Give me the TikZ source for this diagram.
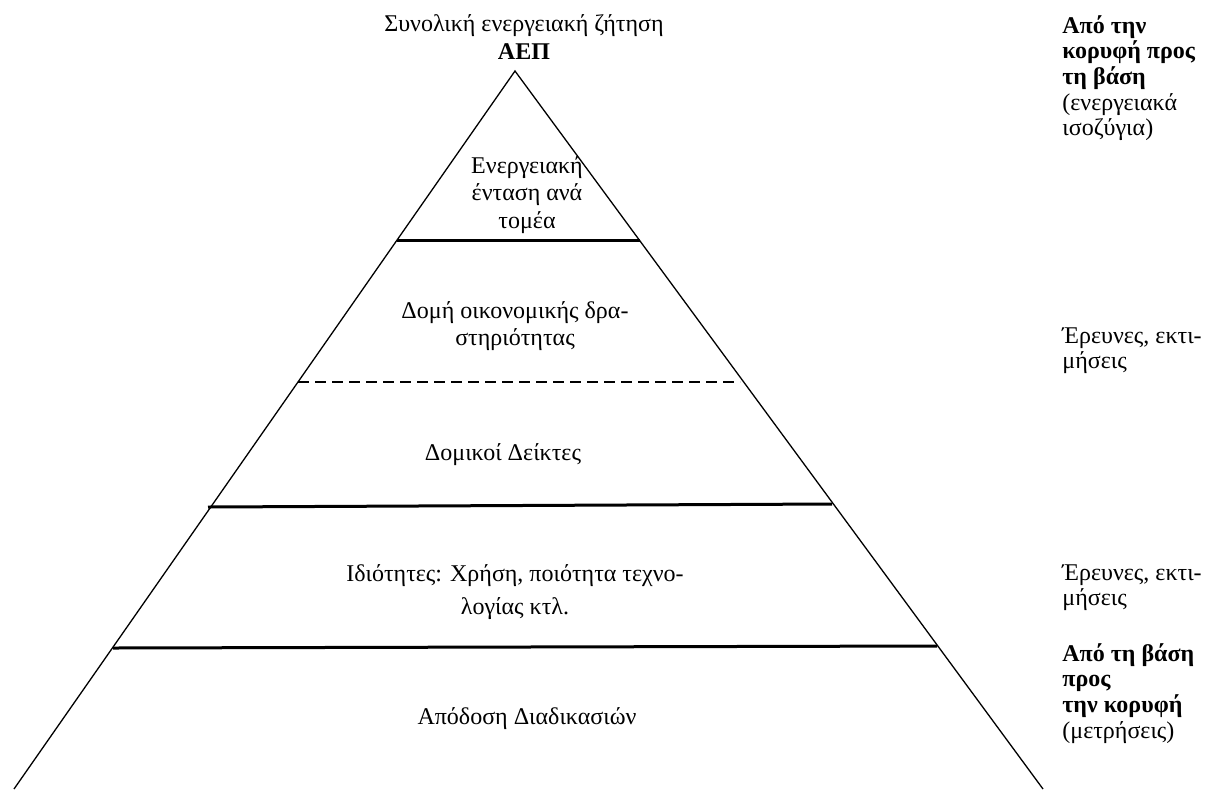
\documentclass[tikz,border=0pt]{standalone}
\usepackage{fontspec}
\setmainfont{Liberation Serif}
\usetikzlibrary{positioning, calc}
\tikzset{
  layertext/.style={font=\fontsize{12}{13.8}\selectfont, align=center, inner sep=0pt},
  sidetext/.style={font=\fontsize{12}{12.8}\selectfont, align=left, anchor=north west, inner sep=0pt},
  side/.style={line width=0.65pt},
  border/.style={line width=1.5pt},
  softborder/.style={line width=1pt, dash pattern=on 5.5pt off 3pt}
}

\begin{document}
\begin{tikzpicture}[x=0.5pt, y=-0.5pt]
  \useasboundingbox (0,0) rectangle (1211,789);
  % pyramid
  \coordinate (apex) at (515,71);
  \coordinate (baseL) at (14,789);
  \coordinate (baseR) at (1043,789);
  \draw[side] (baseL) -- (apex) -- (baseR);
  % levels
  \draw[border] (397,240) -- (640,240);
  \draw[softborder] (298,382) -- (740,382);
  \draw[border] (208,507) -- (832,504);
  \draw[border] (113,648) -- (937,646);
  % labels inside
  \node[layertext] (total) at (524,37) {Συνολική ενεργειακή ζήτηση\\\textbf{ΑΕΠ}};
  \node[layertext] (intensity) at (527,195) {Ενεργειακή\\ένταση ανά\\τομέα};
  \node[layertext] (structure) at (515,326) {Δομή οικονομικής δρα-\\στηριότητας};
  \node[layertext] (indicators) at (503,455) {Δομικοί Δείκτες};
  \node[layertext] (props) at (515,592) {Ιδιότητες: Χρήση, ποιότητα τεχνο-\\[3pt]λογίας κτλ.};
  \node[layertext] (efficiency) at (527,719) {Απόδοση Διαδικασιών};
  % right column
  \node[sidetext] (topdown) at (1062,15) {\textbf{Από την}\\\textbf{κορυφή προς}\\\textbf{τη βάση}\\(ενεργειακά\\ισοζύγια)};
  \node[sidetext] (survey1) at (1062,327) {Έρευνες, εκτι-\\μήσεις};
  \node[sidetext] (survey2) at (1062,564) {Έρευνες, εκτι-\\μήσεις};
  \node[sidetext] (bottomup) at (1062,643) {\textbf{Από τη βάση}\\\textbf{προς}\\\textbf{την κορυφή}\\(μετρήσεις)};
\end{tikzpicture}
\end{document}
